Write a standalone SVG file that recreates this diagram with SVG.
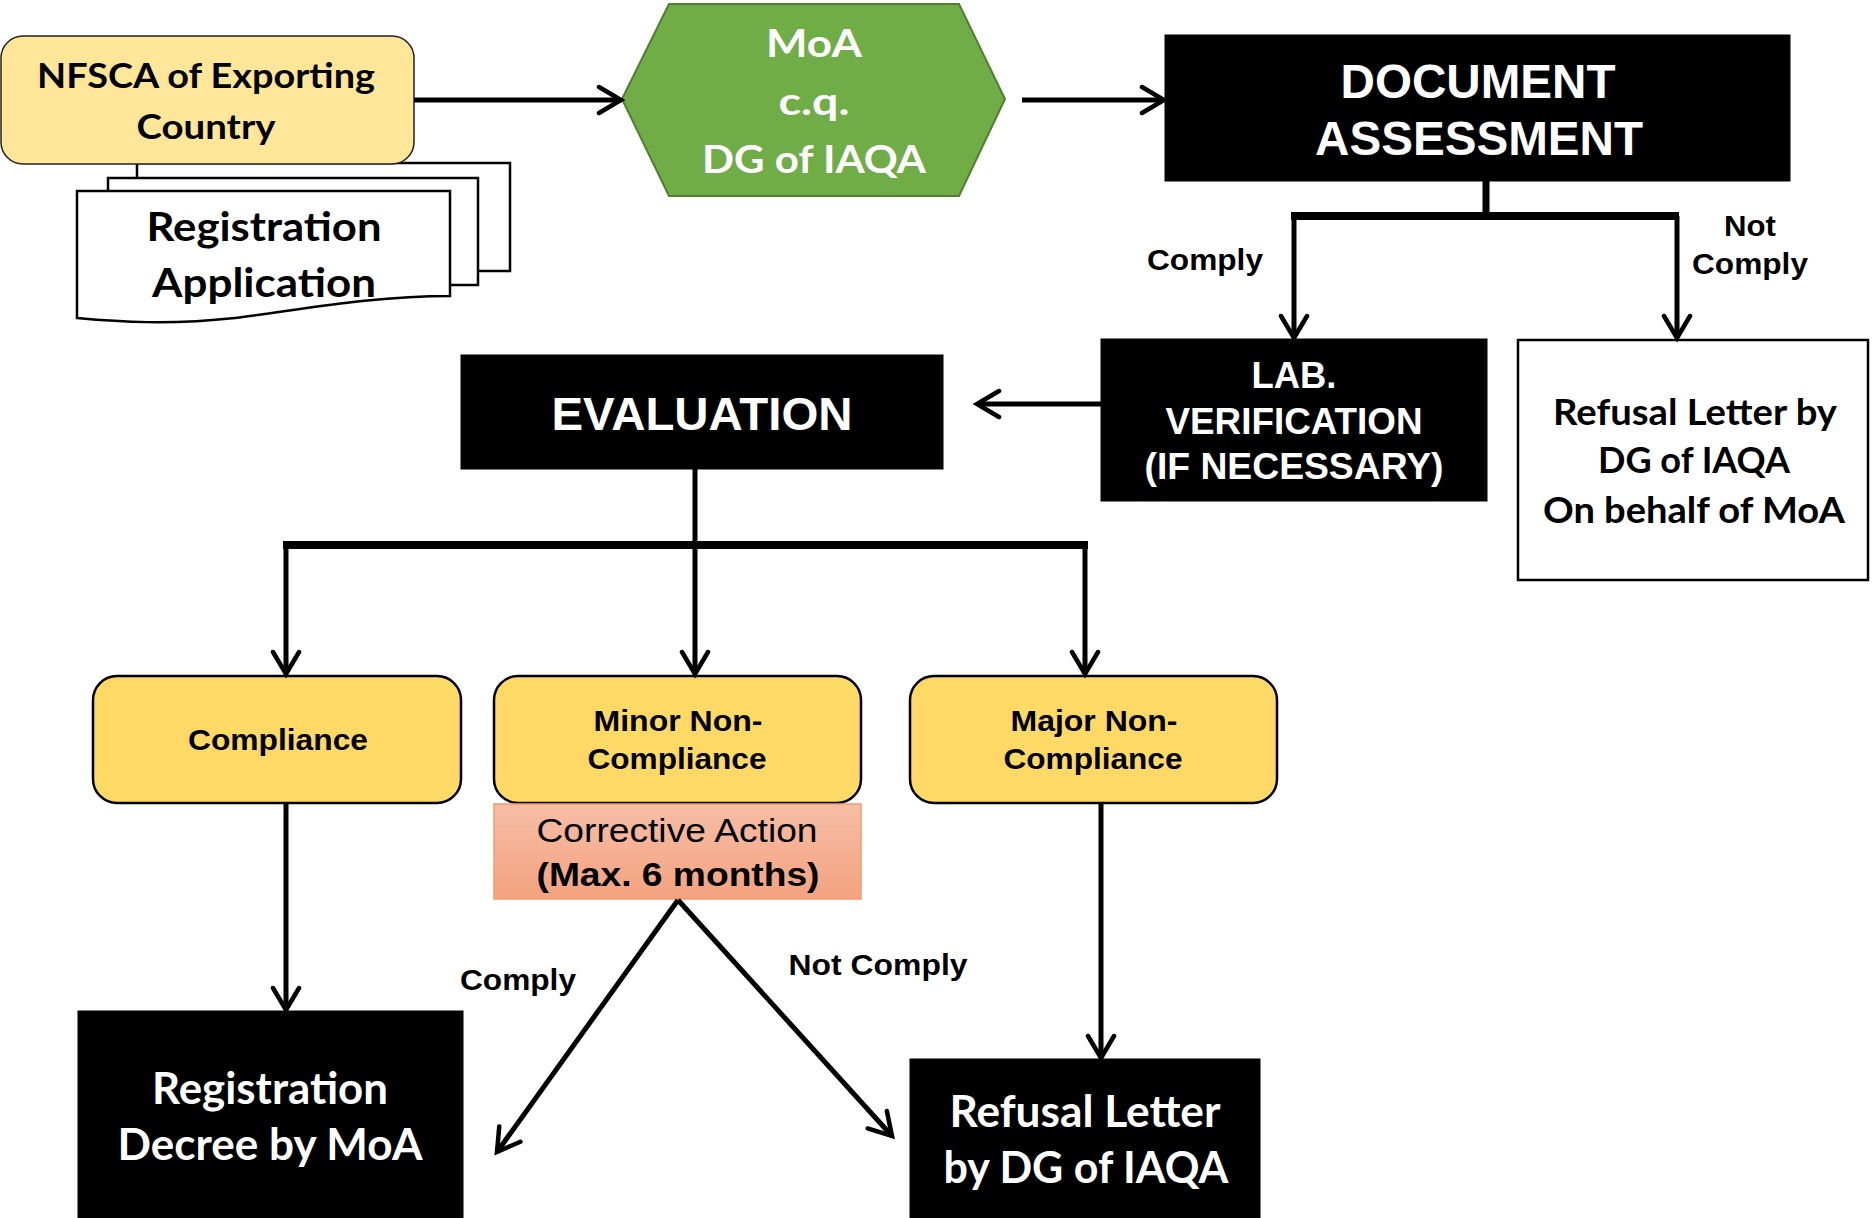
<svg xmlns="http://www.w3.org/2000/svg" width="1874" height="1218" viewBox="0 0 1874 1218">
<defs>
<marker id="ah" markerUnits="userSpaceOnUse" markerWidth="32" markerHeight="32" viewBox="0 0 32 32" refX="26" refY="16" orient="auto">
<path d="M4,3 L26,16 L4,29" fill="none" stroke="#000" stroke-width="4.5" stroke-linecap="round" stroke-linejoin="miter"/>
</marker>
<linearGradient id="corr" x1="0" y1="0" x2="0" y2="1">
<stop offset="0" stop-color="#F6BEA6"/>
<stop offset="1" stop-color="#F4A27F"/>
</linearGradient>
<style>
.cal{font-family:Lato,"Open Sans","Noto Sans",sans-serif;font-weight:bold;}
.nar{font-family:"Liberation Sans",Arial,sans-serif;font-weight:bold;}
.narr{font-family:"Liberation Sans",Arial,sans-serif;font-weight:normal;}
.w{fill:#fff;}
.k{fill:#000;}
.blk{fill:#000;stroke:#000;}
.yel{fill:#FFD966;stroke:#000;stroke-width:2.5;}
.page{fill:#fff;stroke:#000;stroke-width:2.5;}
.ln{fill:none;stroke:#000;stroke-width:5;}
</style>
</defs>

<g id="registration-application">
<rect class="page" x="137" y="163" width="373" height="108"/>
<rect class="page" x="108" y="178" width="370" height="107"/>
<path class="page" d="M77,191 H450 V296 C370,296 300,310 235,318 C170,325 120,322 77,318 Z"/>
<text class="cal k" x="264" y="241" font-size="40" text-anchor="middle" textLength="235" lengthAdjust="spacingAndGlyphs">Registration</text>
<text class="cal k" x="264" y="297" font-size="40" text-anchor="middle" textLength="224" lengthAdjust="spacingAndGlyphs">Application</text>
</g>

<g id="nfsca">
<rect x="1" y="36" width="413" height="128" rx="22" ry="22" fill="#FFE699" stroke="#222" stroke-width="1.5"/>
<text class="cal k" x="206" y="88" font-size="35" text-anchor="middle" textLength="338" lengthAdjust="spacingAndGlyphs">NFSCA of Exporting</text>
<text class="cal k" x="206" y="139" font-size="35" text-anchor="middle" textLength="139" lengthAdjust="spacingAndGlyphs">Country</text>
</g>

<g id="moa">
<polygon points="622,99 669,4 959,4 1005,99 959,196 669,196" fill="#70AD47" stroke="#507E32" stroke-width="2"/>
<text class="cal w" x="814" y="57" font-size="39" text-anchor="middle" textLength="96" lengthAdjust="spacingAndGlyphs">MoA</text>
<text class="cal w" x="814" y="115" font-size="39" text-anchor="middle" textLength="71" lengthAdjust="spacingAndGlyphs">c.q.</text>
<text class="cal w" x="814" y="173" font-size="39" text-anchor="middle" textLength="224" lengthAdjust="spacingAndGlyphs">DG of IAQA</text>
</g>

<g id="document-assessment">
<rect class="blk" x="1165" y="35" width="625" height="146"/>
<text class="nar w" x="1478" y="98" font-size="48" text-anchor="middle" textLength="275" lengthAdjust="spacingAndGlyphs">DOCUMENT</text>
<text class="nar w" x="1479" y="155" font-size="48" text-anchor="middle" textLength="328" lengthAdjust="spacingAndGlyphs">ASSESSMENT</text>
</g>

<g id="lab-verification">
<rect class="blk" x="1101" y="339" width="386" height="162"/>
<text class="nar w" x="1294" y="388" font-size="37" text-anchor="middle" textLength="85" lengthAdjust="spacingAndGlyphs">LAB.</text>
<text class="nar w" x="1294" y="434" font-size="37" text-anchor="middle" textLength="257" lengthAdjust="spacingAndGlyphs">VERIFICATION</text>
<text class="nar w" x="1294" y="479" font-size="37" text-anchor="middle" textLength="299" lengthAdjust="spacingAndGlyphs">(IF NECESSARY)</text>
</g>

<g id="refusal-letter-moa">
<rect x="1518" y="340" width="350" height="240" fill="#fff" stroke="#000" stroke-width="2.5"/>
<text class="cal k" x="1695" y="425" font-size="37" text-anchor="middle" textLength="284" lengthAdjust="spacingAndGlyphs">Refusal Letter by</text>
<text class="cal k" x="1694" y="473" font-size="37" text-anchor="middle" textLength="192" lengthAdjust="spacingAndGlyphs">DG of IAQA</text>
<text class="cal k" x="1694" y="523" font-size="37" text-anchor="middle" textLength="302" lengthAdjust="spacingAndGlyphs">On behalf of MoA</text>
</g>

<g id="evaluation">
<rect class="blk" x="461" y="355" width="482" height="114"/>
<text class="nar w" x="702" y="430" font-size="46" text-anchor="middle" textLength="301" lengthAdjust="spacingAndGlyphs">EVALUATION</text>
</g>

<g id="compliance">
<rect class="yel" x="93" y="676" width="368" height="127" rx="24" ry="24"/>
<text class="nar k" x="278" y="750" font-size="30" text-anchor="middle" textLength="180" lengthAdjust="spacingAndGlyphs">Compliance</text>
</g>

<g id="minor-non-compliance">
<rect class="yel" x="494" y="676" width="367" height="127" rx="24" ry="24"/>
<text class="nar k" x="678" y="731" font-size="30" text-anchor="middle" textLength="169" lengthAdjust="spacingAndGlyphs">Minor Non-</text>
<text class="nar k" x="677" y="769" font-size="30" text-anchor="middle" textLength="179" lengthAdjust="spacingAndGlyphs">Compliance</text>
</g>

<g id="corrective-action">
<rect x="494" y="804" width="367" height="95" fill="url(#corr)" stroke="#F29C6B" stroke-width="1.5"/>
<text class="narr k" x="677" y="842" font-size="34" text-anchor="middle" textLength="281" lengthAdjust="spacingAndGlyphs">Corrective Action</text>
<text class="nar k" x="678" y="886" font-size="34" text-anchor="middle" textLength="283" lengthAdjust="spacingAndGlyphs">(Max. 6 months)</text>
</g>

<g id="major-non-compliance">
<rect class="yel" x="910" y="676" width="367" height="127" rx="24" ry="24"/>
<text class="nar k" x="1094" y="731" font-size="30" text-anchor="middle" textLength="167" lengthAdjust="spacingAndGlyphs">Major Non-</text>
<text class="nar k" x="1093" y="769" font-size="30" text-anchor="middle" textLength="179" lengthAdjust="spacingAndGlyphs">Compliance</text>
</g>

<g id="registration-decree">
<rect class="blk" x="78" y="1011" width="385" height="210"/>
<text class="cal w" x="270" y="1104" font-size="44" text-anchor="middle" textLength="236" lengthAdjust="spacingAndGlyphs">Registration</text>
<text class="cal w" x="270" y="1160" font-size="44" text-anchor="middle" textLength="305" lengthAdjust="spacingAndGlyphs">Decree by MoA</text>
</g>

<g id="refusal-letter-iaqa">
<rect class="blk" x="910" y="1059" width="350" height="162"/>
<text class="cal w" x="1085" y="1127" font-size="44" text-anchor="middle" textLength="271" lengthAdjust="spacingAndGlyphs">Refusal Letter</text>
<text class="cal w" x="1086" y="1183" font-size="44" text-anchor="middle" textLength="285" lengthAdjust="spacingAndGlyphs">by DG of IAQA</text>
</g>

<g id="connectors">
<line class="ln" x1="414" y1="100" x2="621" y2="100" marker-end="url(#ah)"/>
<line class="ln" x1="1022" y1="100" x2="1164" y2="100" marker-end="url(#ah)"/>
<line x1="1486" y1="181" x2="1486" y2="216" stroke="#000" stroke-width="7"/>
<line x1="1291" y1="216" x2="1679" y2="216" stroke="#000" stroke-width="8"/>
<line class="ln" x1="1294" y1="216" x2="1294" y2="338" marker-end="url(#ah)"/>
<line class="ln" x1="1677" y1="216" x2="1677" y2="338" marker-end="url(#ah)"/>
<line class="ln" x1="1101" y1="404" x2="977" y2="404" marker-end="url(#ah)"/>
<line x1="283" y1="545" x2="1088" y2="545" stroke="#000" stroke-width="8"/>
<line class="ln" x1="695" y1="469" x2="695" y2="674" stroke-width="6" marker-end="url(#ah)"/>
<line class="ln" x1="286" y1="545" x2="286" y2="674" marker-end="url(#ah)"/>
<line class="ln" x1="1085" y1="545" x2="1085" y2="674" marker-end="url(#ah)"/>
<line class="ln" x1="286" y1="803" x2="286" y2="1010" marker-end="url(#ah)"/>
<line class="ln" x1="1101" y1="803" x2="1101" y2="1058" marker-end="url(#ah)"/>
<line class="ln" x1="678" y1="900" x2="497" y2="1152" stroke-width="4.5" marker-end="url(#ah)"/>
<line class="ln" x1="678" y1="900" x2="892" y2="1136" stroke-width="4.5" marker-end="url(#ah)"/>
<text class="nar k" x="1205" y="270" font-size="29" text-anchor="middle" textLength="116" lengthAdjust="spacingAndGlyphs">Comply</text>
<text class="nar k" x="1750" y="236" font-size="29" text-anchor="middle" textLength="52" lengthAdjust="spacingAndGlyphs">Not</text>
<text class="nar k" x="1750" y="274" font-size="29" text-anchor="middle" textLength="116" lengthAdjust="spacingAndGlyphs">Comply</text>
<text class="nar k" x="518" y="990" font-size="29" text-anchor="middle" textLength="116" lengthAdjust="spacingAndGlyphs">Comply</text>
<text class="nar k" x="878" y="975" font-size="29" text-anchor="middle" textLength="179" lengthAdjust="spacingAndGlyphs">Not Comply</text>
</g>
</svg>
